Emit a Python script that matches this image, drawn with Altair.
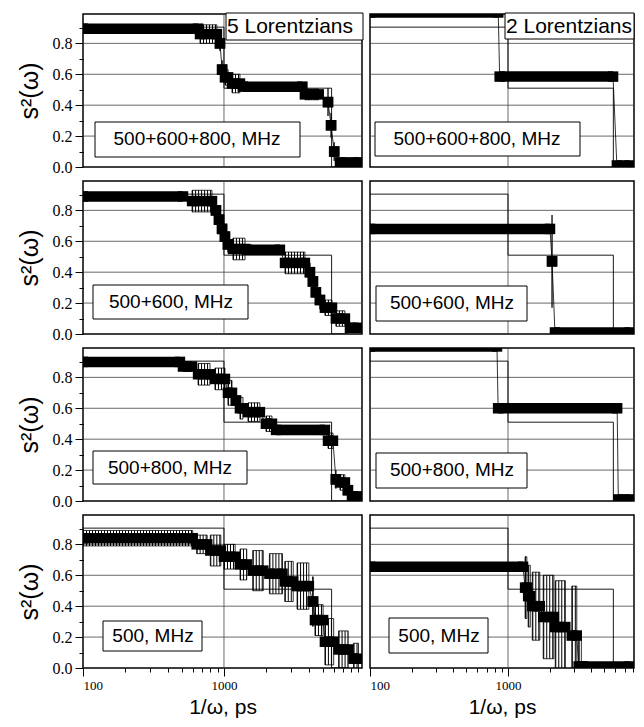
import altair as alt
import pandas as pd

# ---------------- data ----------------
x_ticks = [100, 200, 300, 400, 500, 600, 700, 800, 900,
           1000, 2000, 3000, 4000, 5000, 6000, 7000, 8000, 9000]
x_major = [100, 1000]
y_ticks = [0.0, 0.1, 0.2, 0.3, 0.4, 0.5, 0.6, 0.7, 0.8, 0.9]
y_major = [0.0, 0.2, 0.4, 0.6, 0.8]
y_grid = [0.2, 0.4, 0.6, 0.8]
x_grid = [1000]

# thin reference step drawn in every panel
ref_x = [100, 1000, 1000, 5800, 5800, 7600]
ref_y = [0.905, 0.905, 0.51, 0.51, 0.0, 0.0]

# 5 Lorentzians, 500+600+800 MHz  (runs of points: start, end, value, error)
l1_x0 = [100, 676, 937, 970, 1016, 1140, 1360, 3750, 5470, 5750, 6050, 6650]
l1_x1 = [655, 891, 937, 970, 1070, 1298, 3600, 4700, 5470, 5750, 6050, 9000]
l1_y = [0.895, 0.86, 0.80, 0.63, 0.58, 0.54, 0.52, 0.47, 0.42, 0.27, 0.10, 0.03]
l1_e = [0.0, 0.06, 0.05, 0.06, 0.05, 0.06, 0.0, 0.035, 0.09, 0.08, 0.06, 0.0]

# 5 Lorentzians, 500+600 MHz
l2_x0 = [100, 594, 877, 922, 969, 1016, 1067, 1158, 1450, 2710, 4070, 4275, 4487, 4795, 5200, 6220, 7830]
l2_x1 = [512, 822, 877, 922, 969, 1016, 1067, 1410, 2493, 3750, 4070, 4275, 4487, 4795, 5840, 7210, 9000]
l2_y = [0.89, 0.86, 0.80, 0.74, 0.68, 0.63, 0.58, 0.55, 0.545, 0.46, 0.40, 0.34, 0.27, 0.22, 0.17, 0.10, 0.04]
l2_e = [0.0, 0.07, 0.05, 0.05, 0.05, 0.05, 0.05, 0.07, 0.02, 0.07, 0.06, 0.06, 0.06, 0.06, 0.05, 0.05, 0.0]

# 5 Lorentzians, 500+800 MHz
l3_x0 = [100, 512, 655, 863, 1067, 1216, 1298, 1480, 1985, 2340, 5470, 6220, 6650, 7570, 8090]
l3_x1 = [487, 593, 796, 1016, 1140, 1216, 1364, 1798, 2190, 5200, 5930, 6220, 7210, 7570, 9000]
l3_y = [0.90, 0.87, 0.82, 0.79, 0.70, 0.65, 0.60, 0.575, 0.50, 0.46, 0.39, 0.14, 0.12, 0.07, 0.03]
l3_e = [0.0, 0.03, 0.07, 0.07, 0.08, 0.07, 0.07, 0.06, 0.05, 0.03, 0.05, 0.06, 0.05, 0.04, 0.0]

# 5 Lorentzians, 500 MHz
l4_x0 = [100, 640, 800, 1000, 1300, 1600, 2100, 2700, 3300, 4250, 4420, 5200, 6500, 8300]
l4_x1 = [600, 760, 950, 1200, 1450, 1900, 2600, 3100, 4000, 4300, 5050, 6000, 7600, 9000]
l4_y = [0.84, 0.80, 0.76, 0.72, 0.67, 0.63, 0.61, 0.56, 0.53, 0.43, 0.31, 0.17, 0.12, 0.06]
l4_e = [0.05, 0.06, 0.10, 0.08, 0.10, 0.13, 0.13, 0.13, 0.15, 0.16, 0.10, 0.15, 0.12, 0.10]

# 2 Lorentzians
r1_x0 = [100, 870, 6150]
r1_x1 = [850, 5770, 7600]
r1_y = [1.0, 0.585, 0.01]
r1_e = [0.0, 0.012, 0.0]

r2_x0 = [100, 2085, 2190]
r2_x1 = [2015, 2085, 7600]
r2_y = [0.68, 0.47, 0.01]
r2_e = [0.0, 0.30, 0.0]

r3_x0 = [100, 848, 6300]
r3_x1 = [832, 6180, 7600]
r3_y = [1.0, 0.60, 0.01]
r3_e = [0.0, 0.012, 0.0]

r4_x0 = [100, 1330, 1400, 1500, 1800, 2200, 2900, 3250, 3500]
r4_x1 = [1285, 1370, 1450, 1700, 2150, 2600, 3150, 3400, 7600]
r4_y = [0.655, 0.52, 0.465, 0.40, 0.33, 0.265, 0.21, 0.01, 0.01]
r4_e = [0.0, 0.2, 0.2, 0.22, 0.27, 0.3, 0.32, 0.2, 0.0]

labels = ["500+600+800, MHz", "500+600, MHz", "500+800, MHz", "500, MHz"]

# ---------------- layout constants ----------------
LEFT_W, RIGHT_W, PANEL_H = 279, 264, 153
LEFT_XMAX, RIGHT_XMAX = 9530, 8185
SANS, SERIF = "Liberation Sans", "Liberation Serif"

# label boxes (x0, y0, x1, y1) and text centres, in panel pixels
left_boxes = [(12, 108, 217, 143), (10, 104, 165, 138), (10, 103, 164, 136), (20, 106, 119, 136)]
left_text = [(114, 125), (88, 121), (87, 120), (70, 121)]
right_boxes = [(5, 108, 210, 142), (6, 105, 157, 140), (6, 105, 157, 140), (19, 103, 118, 138)]
right_text = [(107, 125), (82, 122), (82, 122), (69, 121)]


def in_list(vals):
    return "indexof([" + ",".join(str(v) for v in vals) + "], datum.value) >= 0"


def make_panel(x0, x1, y, e, label, box, txt, left, bottom, width, xmax, corner=None):
    xs = alt.Scale(type="log", domain=[100, xmax], nice=False)
    ys = alt.Scale(domain=[0, 0.99], nice=False, zero=False)

    runs = pd.DataFrame({"x0": x0, "x1": x1, "y": y, "e": e})
    runs["lo"] = runs["y"] - runs["e"]
    runs["hi"] = runs["y"] + runs["e"]
    runs["w"] = 2 * runs["e"]
    errs = runs[runs["e"] > 0]
    px, py = [], []
    for a, b, v in zip(x0, x1, y):
        px += [a, b]
        py += [v, v]
    pts = pd.DataFrame({"x": px, "y": py, "k": list(range(len(px)))})
    ref = pd.DataFrame({"x": ref_x, "y": ref_y, "k": list(range(len(ref_x)))})

    if bottom:
        t = in_list(x_major)
        xaxis = alt.Axis(values=[v for v in x_ticks if v <= xmax],
                         labelExpr=t + " ? format(datum.value, 'd') : ''",
                         tickSize={"condition": {"test": t, "value": 8}, "value": 4},
                         labelFont=SERIF, labelFontSize=13, labelPadding=3,
                         title="1/ω, ps", titleFont=SANS, titleFontSize=21,
                         titleFontWeight="normal", titlePadding=4, grid=False, domain=False)
    else:
        xaxis = None
    if left:
        t = in_list(y_major)
        yaxis = alt.Axis(values=y_ticks, labelExpr=t + " ? format(datum.value, '.1f') : ''",
                         tickSize={"condition": {"test": t, "value": 8}, "value": 4},
                         labelFont=SERIF, labelFontSize=16, labelPadding=3,
                         title="s²(ω)", titleFont=SANS, titleFontSize=25,
                         titleFontWeight="normal", titlePadding=10, grid=False, domain=False)
    else:
        yaxis = None

    def X(f):
        return alt.X(f, scale=xs, axis=xaxis)

    def Y(f):
        return alt.Y(f, scale=ys, axis=yaxis)

    grid_h = alt.Chart(pd.DataFrame({"g": y_grid})).mark_rule(color="#444", strokeWidth=0.8).encode(
        y=Y("g:Q"))
    grid_v = alt.Chart(pd.DataFrame({"g": x_grid})).mark_rule(color="#444", strokeWidth=0.8).encode(
        x=X("g:Q"))
    step = alt.Chart(ref).mark_line(color="black", strokeWidth=0.9, clip=True).encode(
        x=X("x:Q"), y=Y("y:Q"), order="k:Q")
    # error bars: a comb of vertical hairlines between y-e and y+e, with caps
    comb = alt.Chart(errs).mark_rule(color="black", strokeDash=[1, 2], clip=True).encode(
        x=X("x0:Q"), x2="x1:Q", y=Y("y:Q"),
        strokeWidth=alt.StrokeWidth("w:Q", scale=alt.Scale(domain=[0, 0.99], range=[0, PANEL_H]),
                                    legend=None))
    cap_hi = alt.Chart(errs).mark_rule(color="black", strokeWidth=0.8, clip=True).encode(
        x=X("x0:Q"), x2="x1:Q", y=Y("hi:Q"))
    cap_lo = alt.Chart(errs).mark_rule(color="black", strokeWidth=0.8, clip=True).encode(
        x=X("x0:Q"), x2="x1:Q", y=Y("lo:Q"))
    bar_a = alt.Chart(errs).mark_rule(color="black", strokeWidth=0.8, clip=True).encode(
        x=X("x0:Q"), y=Y("lo:Q"), y2="hi:Q")
    bar_b = alt.Chart(errs).mark_rule(color="black", strokeWidth=0.8, clip=True).encode(
        x=X("x1:Q"), y=Y("lo:Q"), y2="hi:Q")
    conn = alt.Chart(pts).mark_line(color="black", strokeWidth=0.8, clip=True).encode(
        x=X("x:Q"), y=Y("y:Q"), order="k:Q")
    band = alt.Chart(runs).mark_rule(color="black", strokeWidth=10.5, clip=True).encode(
        x=X("x0:Q"), x2="x1:Q", y=Y("y:Q"))
    sq = alt.Chart(pts).mark_square(size=110, color="black", opacity=1, clip=True).encode(
        x=X("x:Q"), y=Y("y:Q"))

    one = pd.DataFrame({"a": [0]})
    lbox = alt.Chart(one).mark_rect(fill="white", stroke="black", strokeWidth=1).encode(
        x=alt.value(box[0]), y=alt.value(box[1]), x2=alt.value(box[2]), y2=alt.value(box[3]))
    ltxt = alt.Chart(one).mark_text(text=label, font=SANS, fontSize=19, color="black",
                                    align="center", baseline="middle").encode(
        x=alt.value(txt[0]), y=alt.value(txt[1]))
    layers = [grid_h, grid_v, step, comb, cap_hi, cap_lo, bar_a, bar_b, conn, band, sq, lbox, ltxt]
    if corner is not None:
        ctext, cbox, cpos = corner
        layers.append(alt.Chart(one).mark_rect(fill="white", stroke="black", strokeWidth=1).encode(
            x=alt.value(cbox[0]), y=alt.value(cbox[1]), x2=alt.value(cbox[2]), y2=alt.value(cbox[3])))
        layers.append(alt.Chart(one).mark_text(text=ctext, font=SANS, fontSize=21, color="black",
                                               align="center", baseline="middle").encode(
            x=alt.value(cpos[0]), y=alt.value(cpos[1])))
    return alt.layer(*layers).properties(width=width, height=PANEL_H)


left_data = [(l1_x0, l1_x1, l1_y, l1_e), (l2_x0, l2_x1, l2_y, l2_e),
             (l3_x0, l3_x1, l3_y, l3_e), (l4_x0, l4_x1, l4_y, l4_e)]
right_data = [(r1_x0, r1_x1, r1_y, r1_e), (r2_x0, r2_x1, r2_y, r2_e),
              (r3_x0, r3_x1, r3_y, r3_e), (r4_x0, r4_x1, r4_y, r4_e)]

panels = []
for i in range(4):
    lc = ("5 Lorentzians", (143, -1, 280, 26), (207, 13)) if i == 0 else None
    rc = ("2 Lorentzians", (135, -1, RIGHT_W, 25), (199, 13)) if i == 0 else None
    panels.append(make_panel(*left_data[i], labels[i], left_boxes[i], left_text[i], True, i == 3,
                             LEFT_W, LEFT_XMAX, lc))
    panels.append(make_panel(*right_data[i], labels[i], right_boxes[i], right_text[i], False, i == 3,
                             RIGHT_W, RIGHT_XMAX, rc))

chart = alt.concat(*panels, columns=2, spacing={"row": 14, "column": 8}, bounds="flush",
                   align="each").properties(
    padding={"left": 8, "top": 3, "right": 0, "bottom": 0},
    background="white",
).configure_view(stroke="black", strokeWidth=1.5).configure_axis(
    labelColor="black", tickColor="black", titleColor="black", tickWidth=1)

chart.save("out.html", embed_options={"renderer": "svg", "actions": False})
